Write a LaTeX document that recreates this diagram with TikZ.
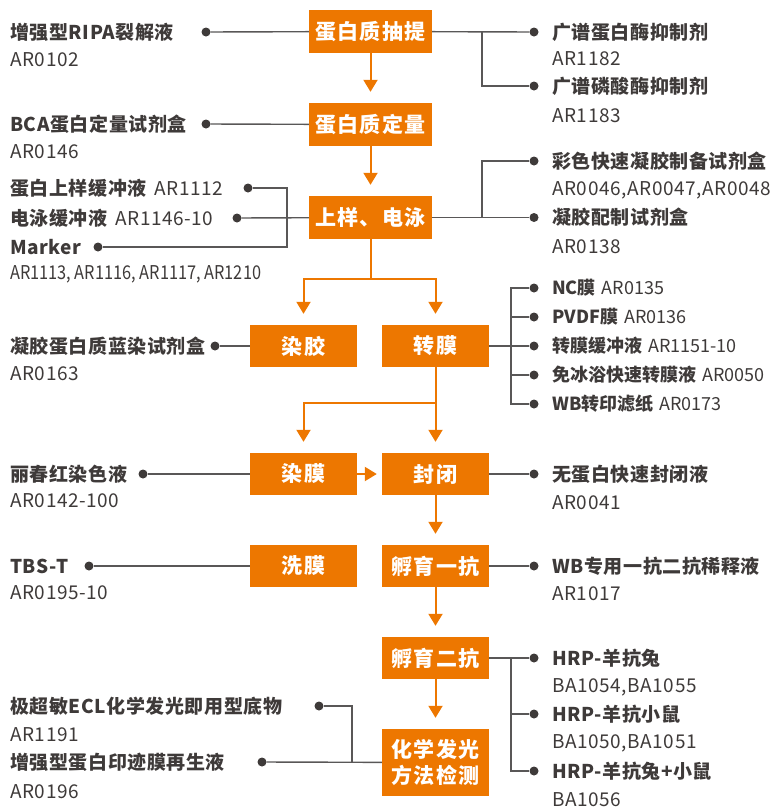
\documentclass[tikz,border=0pt]{standalone}
\usepackage{fontspec}
\setmainfont{Noto Sans CJK SC}
\usetikzlibrary{positioning,arrows.meta}
\definecolor{wborange}{HTML}{ED7700}
\definecolor{wbtext}{HTML}{3E3A39}
\definecolor{wbline}{HTML}{595757}

\begin{document}
\begin{tikzpicture}[x=1pt,y=-1pt]
			\tikzstyle{stage}=[rectangle,fill=wborange,text=white,inner sep=0pt,minimum width=107pt,minimum height=42pt,align=center,font=\fontsize{21}{26}\selectfont\bfseries\addfontfeature{LetterSpace=6}]
			\tikzstyle{wide stage}=[stage,minimum width=123pt,minimum height=43pt]
			\tikzstyle{flow}=[draw=wborange,line width=2pt,-{Triangle[length=12pt,width=14pt]},shorten >=11pt]
			\tikzstyle{link}=[draw=wbline,line width=1.4pt]
			\tikzstyle{dot}=[circle,fill=wbtext,minimum size=9pt,inner sep=0pt]
			\tikzstyle{reagent}=[anchor=west,inner sep=0pt,text=wbtext,font=\fontsize{19}{22}\selectfont\bfseries\addfontfeature{LetterSpace=3}]
			\tikzstyle{code}=[anchor=west,inner sep=0pt,text=wbtext,font=\fontsize{19}{22}\selectfont\addfontfeature{LetterSpace=3}]
			\tikzstyle{membrane}=[anchor=west,inner sep=0pt,text=wbtext,font=\fontsize{18}{22}\selectfont]
			
			\useasboundingbox (0,0) rectangle (770,809);
			
			% Define column positions
			\def\leftcol{10}
			\def\rightcol{552}
			\def\rightdot{534}
			
			% Draw the main steps
			\node[wide stage] (extract) at (370.5,31.5) {蛋白质抽提};
			\node[wide stage] (quant) at (370.5,124.5) {蛋白质定量};
			\node[wide stage] (sds) at (370.5,217.5) {上样、电泳};
			\node[stage] (stain gel) at (303.5,346) {染胶};
			\node[stage] (transfer) at (435.5,346) {转膜};
			\node[stage] (stain mem) at (303.5,474) {染膜};
			\node[stage] (block) at (435.5,474) {封闭};
			\node[stage] (wash) at (303.5,566) {洗膜};
			\node[stage] (primary) at (435.5,566) {孵育一抗};
			\node[stage] (secondary) at (435.5,658) {孵育二抗};
			\node[stage,minimum height=67pt] (detect) at (435.5,762.5) {化学发光\\方法检测};
			
			% Split points of the flow
			\coordinate (split-1) at (370.5,279);
			\coordinate (split-2) at (435.5,403);
			
			% Connect the steps
			\draw[flow] (extract) -- (quant);
			\draw[flow] (quant) -- (sds);
			\draw[link,draw=wborange,line width=2pt] (sds) -- (split-1);
			\draw[flow] (split-1) -| (stain gel);
			\draw[flow] (split-1) -| (transfer);
			\draw[flow] (transfer) -- (block);
			\draw[flow] (split-2) -| (stain mem);
			\draw[flow,shorten >=5pt] (stain mem) -- (block);
			\draw[flow] (block) -- (primary);
			\draw[flow] (primary) -- (secondary);
			\draw[flow] (secondary) -- (detect);
			
			% Reagents on the left
			\node[reagent] (L-1) at (\leftcol,32) {增强型RIPA裂解液};
			\node[code] at (\leftcol,60) {AR0102};
			\node[dot] (LD-1) at (206,32) {};
			\node[reagent] (L-2) at (\leftcol,124) {BCA蛋白定量试剂盒};
			\node[code] at (\leftcol,152) {AR0146};
			\node[dot] (LD-2) at (206,124) {};
			\node[reagent] (L-3) at (\leftcol,188) {蛋白上样缓冲液\hspace{8pt}\mdseries AR1112};
			\node[dot] (LD-3) at (248,188) {};
			\node[reagent] (L-4) at (\leftcol,218) {电泳缓冲液\hspace{8pt}\mdseries AR1146-10};
			\node[dot] (LD-4) at (237,218) {};
			\node[reagent] (L-5) at (\leftcol,247) {Marker};
			\node[dot] (LD-5) at (98,247) {};
			\node[code,font=\fontsize{19}{22}\selectfont\addfontfeature{FakeStretch=0.86}] at (\leftcol,274) {AR1113, AR1116, AR1117, AR1210};
			\node[reagent] (L-6) at (\leftcol,346) {凝胶蛋白质蓝染试剂盒};
			\node[code] at (\leftcol,374) {AR0163};
			\node[dot] (LD-6) at (215,346) {};
			\node[reagent] (L-7) at (\leftcol,474) {丽春红染色液};
			\node[code] at (\leftcol,501) {AR0142-100};
			\node[dot] (LD-7) at (143,474) {};
			\node[reagent] (L-8) at (\leftcol,566) {TBS-T};
			\node[code] at (\leftcol,593) {AR0195-10};
			\node[dot] (LD-8) at (89,566) {};
			\node[reagent] (L-9) at (\leftcol,706) {极超敏ECL化学发光即用型底物};
			\node[code] at (\leftcol,735) {AR1191};
			\node[dot] (LD-9) at (319,706) {};
			\node[reagent] (L-10) at (\leftcol,762) {增强型蛋白印迹膜再生液};
			\node[code] at (\leftcol,792) {AR0196};
			\node[dot] (LD-10) at (262,762) {};
			
			% Reagents on the right
			\node[reagent] (R-1) at (\rightcol,32) {广谱蛋白酶抑制剂};
			\node[code] at (\rightcol,59) {AR1182};
			\node[dot] (RD-1) at (\rightdot,32) {};
			\node[reagent] (R-2) at (\rightcol,86) {广谱磷酸酶抑制剂};
			\node[code] at (\rightcol,116) {AR1183};
			\node[dot] (RD-2) at (\rightdot,86) {};
			\node[reagent] (R-3) at (\rightcol,161) {彩色快速凝胶制备试剂盒};
			\node[code] at (\rightcol,190) {AR0046,AR0047,AR0048};
			\node[dot] (RD-3) at (\rightdot,161) {};
			\node[reagent] (R-4) at (\rightcol,217.5) {凝胶配制试剂盒};
			\node[code] at (\rightcol,247) {AR0138};
			\node[dot] (RD-4) at (\rightdot,217.5) {};
			
			% Membranes and transfer buffers
			\foreach \name/\y/\txt/\num in {1/288/NC膜/AR0135,2/317/PVDF膜/AR0136,3/346/转膜缓冲液/AR1151-10,4/375/免冰浴快速转膜液/AR0050,5/404/WB转印滤纸/AR0173}
			{
				\node[membrane] (M-\name) at (\rightcol,\y) {\bfseries\txt\hspace{6pt}\mdseries\num};
				\node[dot] (MD-\name) at (\rightdot,\y) {};
			}
			
			\node[reagent] (R-5) at (\rightcol,474) {无蛋白快速封闭液};
			\node[code] at (\rightcol,503) {AR0041};
			\node[dot] (RD-5) at (\rightdot,474) {};
			\node[reagent] (R-6) at (\rightcol,566) {WB专用一抗二抗稀释液};
			\node[code] at (\rightcol,594) {AR1017};
			\node[dot] (RD-6) at (\rightdot,566) {};
			
			% Secondary antibodies
			\foreach \name/\y/\txt/\num in {1/658/HRP-羊抗兔/{BA1054,BA1055},2/714/HRP-羊抗小鼠/{BA1050,BA1051},3/771/HRP-羊抗兔+小鼠/BA1056}
			{
				\node[reagent] (H-\name) at (\rightcol,\y) {\txt};
				\node[code] at (\rightcol,\y+29) {\num};
				\node[dot] (HD-\name) at (\rightdot,\y) {};
			}
			
			% Joints of the grey lines
			\coordinate (J-extract) at (482,31.5);
			\coordinate (J-sds) at (482,217.5);
			\coordinate (J-load) at (287,218);
			\coordinate (J-transfer) at (511,346);
			\coordinate (J-secondary) at (511,658);
			\coordinate (J-detect) at (352,762);
			
			% Connect the reagents with the steps
			\draw[link] (LD-1) -- (extract);
			\draw[link] (LD-2) -- (quant);
			\draw[link] (LD-4) -- (sds);
			\draw[link] (LD-3) -| (J-load) |- (LD-5);
			\draw[link] (LD-6) -- (stain gel);
			\draw[link] (LD-7) -- (stain mem);
			\draw[link] (LD-8) -- (wash);
			\draw[link] (LD-10) -- (detect);
			\draw[link] (LD-9) -| (J-detect);
			
			\draw[link] (extract) -- (RD-1);
			\draw[link] (J-extract) |- (RD-2);
			\draw[link] (sds) -- (RD-4);
			\draw[link] (J-sds) |- (RD-3);
			\draw[link] (transfer) -- (MD-3);
			\draw[link] (MD-1) -| (J-transfer) |- (MD-5);
			\draw[link] (J-transfer) |- (MD-2);
			\draw[link] (J-transfer) |- (MD-4);
			\draw[link] (block) -- (RD-5);
			\draw[link] (primary) -- (RD-6);
			\draw[link] (secondary) -- (HD-1);
			\draw[link] (J-secondary) |- (HD-2);
			\draw[link] (J-secondary) |- (HD-3);
		\end{tikzpicture}
\end{document}
